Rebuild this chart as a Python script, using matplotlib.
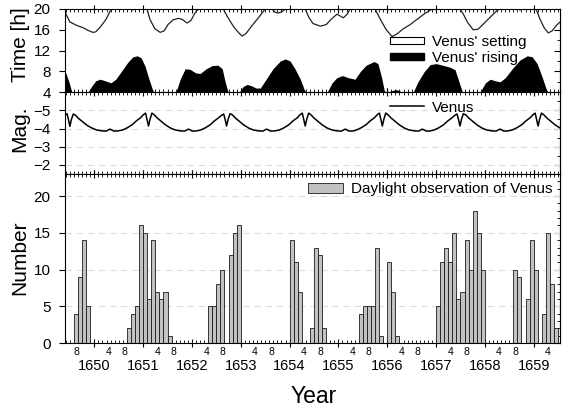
import matplotlib
matplotlib.use("Agg")
import matplotlib.pyplot as plt
from matplotlib.patches import Patch
from matplotlib.lines import Line2D
from matplotlib.ticker import MultipleLocator, FixedLocator

plt.rcParams['font.family'] = ['Liberation Sans', 'DejaVu Sans']

# ---------------- data (decimal years) ----------------
rise_t = [1649.39, 1649.42, 1649.48, 1649.54, 1649.87, 1649.95, 1650.03, 1650.12, 1650.22, 1650.34,
          1650.44, 1650.57, 1650.69, 1650.79, 1650.88, 1650.96, 1651.04, 1651.12, 1651.20, 1651.24,
          1651.67, 1651.76, 1651.86, 1651.96, 1652.08, 1652.17, 1652.29, 1652.41, 1652.53, 1652.62,
          1652.68, 1652.74, 1652.97, 1653.05, 1653.13, 1653.23, 1653.31, 1653.40, 1653.52, 1653.66,
          1653.81, 1653.91, 1654.01, 1654.11, 1654.22, 1654.30, 1654.34, 1654.77, 1654.87, 1654.97,
          1655.08, 1655.20, 1655.34, 1655.45, 1655.57, 1655.73, 1655.81, 1655.88, 1655.94, 1655.98,
          1656.10, 1656.18, 1656.24, 1656.31, 1656.53, 1656.63, 1656.76, 1656.88, 1657.00, 1657.13,
          1657.29, 1657.39, 1657.47, 1657.54, 1657.90, 1658.01, 1658.11, 1658.21, 1658.31, 1658.42,
          1658.56, 1658.72, 1658.87, 1658.97, 1659.07, 1659.17, 1659.26, 1659.30, 1659.54]
rise_h = [8.0, 7.6, 6.0, 4.0, 4.0, 5.2, 6.2, 6.5, 6.2, 5.8,
          6.5, 8.2, 9.8, 10.8, 11.0, 10.6, 9.0, 6.5, 4.3, 4.0,
          4.0, 6.5, 8.5, 8.4, 7.7, 7.6, 8.5, 9.1, 9.2, 8.5,
          6.0, 4.0, 4.0, 5.1, 5.5, 5.2, 4.8, 4.8, 6.5, 8.5,
          10.0, 10.4, 10.0, 8.5, 6.5, 4.5, 4.0, 4.0, 5.8, 6.8,
          7.2, 6.8, 6.5, 8.0, 9.2, 9.9, 9.5, 7.0, 4.3, 4.0,
          4.3, 4.5, 4.3, 4.0, 4.0, 6.0, 8.0, 9.3, 9.5, 9.2,
          8.8, 8.3, 6.0, 4.0, 4.0, 5.8, 6.5, 6.2, 6.0, 6.8,
          8.5, 10.2, 11.0, 10.8, 9.5, 7.0, 4.5, 4.0, 4.0]

set_t = [1649.39, 1649.42, 1649.50, 1649.65, 1649.77, 1649.87, 1649.97, 1650.03, 1650.12, 1650.24,
         1650.32, 1650.36, 1650.75, 1650.79, 1650.83, 1651.08, 1651.14, 1651.24, 1651.35, 1651.43,
         1651.51, 1651.61, 1651.72, 1651.80, 1651.90, 1651.98, 1652.06, 1652.13, 1652.64, 1652.74,
         1652.86, 1652.97, 1653.03, 1653.11, 1653.23, 1653.36, 1653.46, 1653.50, 1653.64, 1653.70,
         1653.76, 1653.85, 1653.91, 1654.32, 1654.40, 1654.48, 1654.63, 1654.75, 1654.85, 1654.97,
         1655.10, 1655.18, 1655.24, 1655.75, 1655.86, 1655.98, 1656.10, 1656.20, 1656.33, 1656.47,
         1656.61, 1656.78, 1656.92, 1657.49, 1657.56, 1657.64, 1657.76, 1657.86, 1658.01, 1658.15,
         1658.25, 1658.31, 1658.68, 1658.72, 1658.76, 1659.05, 1659.13, 1659.22, 1659.30, 1659.38,
         1659.46, 1659.54]
set_h = [20, 19.0, 17.5, 16.8, 16.4, 15.9, 15.5, 15.6, 16.5, 18.0,
         19.5, 20, 20, 19.8, 20, 20, 18.0, 16.2, 15.5, 15.8,
         17.0, 17.9, 18.2, 18.0, 17.3, 17.8, 19.2, 20, 20, 18.3,
         16.5, 15.3, 14.8, 15.3, 16.8, 18.3, 19.5, 20, 20, 19.4,
         19.2, 19.5, 20, 20, 18.3, 17.2, 16.7, 17.0, 18.0, 19.0,
         18.3, 19.0, 20, 20, 18.0, 16.0, 14.7, 15.2, 16.2, 17.0,
         18.0, 19.2, 20, 20, 19.0, 17.5, 16.0, 16.1, 17.5, 18.8,
         19.7, 20, 20, 19.8, 20, 20, 18.0, 16.3, 15.4, 15.8,
         16.8, 17.5]

mag_t = [1649.39, 1649.44, 1649.47, 1649.50, 1649.53, 1649.57, 1649.62, 1649.68, 1649.77, 1649.85,
         1649.95, 1650.05, 1650.16, 1650.24, 1650.32, 1650.40, 1650.48,
         1650.58, 1650.68, 1650.78, 1650.86, 1650.95, 1651.00, 1651.05, 1651.08, 1651.11, 1651.14,
         1651.18, 1651.23, 1651.29, 1651.38, 1651.46, 1651.56, 1651.66, 1651.77, 1651.85, 1651.93,
         1652.01, 1652.09,
         1652.18, 1652.28, 1652.38, 1652.46, 1652.55, 1652.60, 1652.65, 1652.68, 1652.71, 1652.74,
         1652.78, 1652.83, 1652.89, 1652.98, 1653.06, 1653.16, 1653.26, 1653.37, 1653.45, 1653.53,
         1653.61, 1653.69,
         1653.79, 1653.89, 1653.99, 1654.07, 1654.16, 1654.21, 1654.26, 1654.29, 1654.32, 1654.35,
         1654.39, 1654.44, 1654.50, 1654.59, 1654.67, 1654.77, 1654.87, 1654.98, 1655.06, 1655.14,
         1655.22, 1655.30,
         1655.37, 1655.47, 1655.57, 1655.65, 1655.74, 1655.79, 1655.84, 1655.87, 1655.90, 1655.93,
         1655.97, 1656.02, 1656.08, 1656.17, 1656.25, 1656.35, 1656.45, 1656.56, 1656.64, 1656.72,
         1656.80, 1656.88,
         1656.96, 1657.06, 1657.16, 1657.24, 1657.33, 1657.38, 1657.43, 1657.46, 1657.49, 1657.52,
         1657.56, 1657.61, 1657.67, 1657.76, 1657.84, 1657.94, 1658.04, 1658.15, 1658.23, 1658.31,
         1658.39, 1658.47,
         1658.56, 1658.66, 1658.76, 1658.84, 1658.93, 1658.98, 1659.03, 1659.06, 1659.09, 1659.12,
         1659.16, 1659.21, 1659.27, 1659.36, 1659.44, 1659.54]
mag_v = [-4.72, -4.82, -4.5, -4.12, -4.5, -4.8, -4.72, -4.55, -4.35, -4.18,
         -4.03, -3.92, -3.87, -3.86, -3.97, -3.86, -3.87,
         -3.92, -4.05, -4.22, -4.42, -4.6, -4.75, -4.85, -4.5, -4.14, -4.5,
         -4.85, -4.75, -4.58, -4.38, -4.2, -4.03, -3.92, -3.87, -3.86, -3.97,
         -3.86, -3.87,
         -3.92, -4.05, -4.22, -4.42, -4.6, -4.72, -4.8, -4.5, -4.14, -4.5,
         -4.82, -4.75, -4.58, -4.38, -4.2, -4.03, -3.92, -3.87, -3.86, -3.97,
         -3.86, -3.87,
         -3.92, -4.05, -4.22, -4.42, -4.6, -4.75, -4.85, -4.5, -4.14, -4.5,
         -4.85, -4.75, -4.58, -4.38, -4.2, -4.03, -3.92, -3.87, -3.86, -3.97,
         -3.86, -3.87,
         -3.92, -4.05, -4.22, -4.42, -4.6, -4.75, -4.85, -4.5, -4.14, -4.5,
         -4.85, -4.75, -4.58, -4.38, -4.2, -4.03, -3.92, -3.87, -3.86, -3.97,
         -3.86, -3.87,
         -3.92, -4.05, -4.22, -4.42, -4.6, -4.72, -4.8, -4.5, -4.14, -4.5,
         -4.82, -4.75, -4.58, -4.38, -4.2, -4.03, -3.92, -3.87, -3.86, -3.97,
         -3.86, -3.87,
         -3.92, -4.05, -4.22, -4.42, -4.6, -4.75, -4.85, -4.5, -4.14, -4.5,
         -4.85, -4.75, -4.58, -4.38, -4.2, -4.03]

bar_year = [1649, 1649, 1649, 1649,
            1650, 1650, 1650, 1650, 1651, 1651, 1651, 1651, 1651, 1651, 1651,
            1652, 1652, 1652, 1652, 1652, 1652, 1652,
            1654, 1654, 1654, 1654, 1654, 1654, 1654,
            1655, 1655, 1655, 1655, 1655, 1655, 1656, 1656, 1656,
            1657, 1657, 1657, 1657, 1657, 1657, 1657, 1657, 1657, 1657, 1657, 1657,
            1658, 1658, 1658, 1658, 1659, 1659, 1659, 1659, 1659]
bar_month = [8, 9, 10, 11,
             9, 10, 11, 12, 1, 2, 3, 4, 5, 6, 7,
             5, 6, 7, 8, 10, 11, 12,
             1, 2, 3, 6, 7, 8, 9,
             6, 7, 8, 9, 10, 11, 1, 2, 3,
             1, 2, 3, 4, 5, 6, 7, 8, 9, 10, 11, 12,
             8, 9, 11, 12, 1, 3, 4, 5, 6]
bar_count = [4, 9, 14, 5,
             2, 4, 5, 16, 15, 6, 14, 7, 6, 7, 1,
             5, 5, 8, 10, 12, 15, 16,
             14, 11, 7, 2, 13, 12, 2,
             4, 5, 5, 5, 13, 1, 11, 7, 1,
             5, 11, 13, 11, 15, 6, 7, 14, 10, 18, 15, 10,
             10, 9, 6, 14, 10, 4, 15, 8, 2]

years = [1650, 1651, 1652, 1653, 1654, 1655, 1656, 1657, 1658, 1659]
month_label_years = [1649, 1650, 1651, 1652, 1653, 1654, 1655, 1656, 1657, 1658, 1659]
month_labels = [4, 8]
x_range = (1649.39, 1659.54)

# ---------------- figure ----------------
fig = plt.figure(figsize=(5.64, 4.08), dpi=100)
L, R = 0.1144, 0.993
ax1 = fig.add_axes([L, 0.774, R - L, 0.978 - 0.774])
ax2 = fig.add_axes([L, 0.5735, R - L, 0.774 - 0.5735])
ax3 = fig.add_axes([L, 0.159, R - L, 0.5735 - 0.159])

# top panel
ax1.fill_between(rise_t, 4, rise_h, color='black', lw=0)
ax1.fill_between(set_t, set_h, 20, facecolor='white', lw=0)
ax1.plot(set_t, set_h, color='#222222', lw=0.9)
ax1.set_ylim(4, 20)
ax1.set_yticks([4, 8, 12, 16, 20])
ax1.yaxis.set_minor_locator(MultipleLocator(2))

# middle panel
ax2.plot(mag_t, mag_v, color='black', lw=1.1)
ax2.set_ylim(-1.5, -6)
ax2.set_yticks([-5, -4, -3, -2])
ax2.yaxis.set_minor_locator(MultipleLocator(0.5))

# bottom panel
bar_x = [y + (m - 0.5) / 12 for y, m in zip(bar_year, bar_month)]
ax3.bar(bar_x, bar_count, width=1 / 12, color='#c2c2c2', edgecolor='#1a1a1a', linewidth=0.6)
ax3.set_ylim(0, 23)
ax3.set_yticks([0, 5, 10, 15, 20])
ax3.yaxis.set_minor_locator(MultipleLocator(1))

for ax in (ax1, ax2, ax3):
    ax.set_xlim(*x_range)
    ax.xaxis.set_major_locator(FixedLocator(years))
    ax.xaxis.set_minor_locator(MultipleLocator(1 / 12))
    ax.tick_params(axis='x', which='major', direction='inout', length=6, width=0.8,
                   top=True, bottom=True)
    ax.tick_params(axis='x', which='minor', direction='in', length=2.5, width=0.6,
                   top=True, bottom=True)
    ax.tick_params(axis='y', which='major', direction='out', length=4, width=0.8,
                   labelsize=11, pad=6, left=True, right=False)
    ax.tick_params(axis='y', which='minor', left=False, right=False)
    for s in ax.spines.values():
        s.set_linewidth(0.8)
    sec = ax.secondary_yaxis('right')
    sec.yaxis.set_major_locator(FixedLocator(ax.get_yticks()))
    sec.yaxis.set_minor_locator(ax.yaxis.get_minor_locator())
    sec.tick_params(axis='y', which='major', direction='in', length=4, width=0.8, labelright=False)
    sec.tick_params(axis='y', which='minor', direction='in', length=2, width=0.6, labelright=False)
    sec.spines['right'].set_linewidth(0.8)

ax1.tick_params(axis='x', labelbottom=False)
ax2.tick_params(axis='x', labelbottom=False)
for ax in (ax2, ax3):
    ax.grid(axis='y', which='major', linestyle=(0, (6, 4)), color='#dcdcdc', linewidth=0.8)
    ax.set_axisbelow(True)

ax3.set_xticklabels([str(y) for y in years])
ax3.tick_params(axis='x', which='major', labelsize=10.5, pad=8.5)

for y in month_label_years:
    for m in month_labels:
        xm = y + (m - 0.5) / 12
        if x_range[0] < xm < x_range[1]:
            ax3.annotate(str(m), xy=(xm, 0), xycoords=('data', 'axes fraction'),
                         xytext=(0, -2.5), textcoords='offset points',
                         ha='center', va='top', fontsize=7.5)

# legends
ax1.legend(handles=[Patch(facecolor='white', edgecolor='black', linewidth=0.8, label="Venus' setting"),
                    Patch(facecolor='black', edgecolor='black', label="Venus' rising")],
           loc='upper left', bbox_to_anchor=(0.657, 0.69), frameon=False, fontsize=11,
           handlelength=2.2, handleheight=0.35, handletextpad=0.55, labelspacing=0.12,
           borderpad=0, borderaxespad=0)
ax2.legend(handles=[Line2D([], [], color='black', lw=1.1, label='Venus')],
           loc='upper left', bbox_to_anchor=(0.657, 0.895), frameon=False, fontsize=11,
           handlelength=2.2, handletextpad=0.55, borderpad=0, borderaxespad=0)
ax3.legend(handles=[Patch(facecolor='#c2c2c2', edgecolor='#1a1a1a', linewidth=0.6,
                          label='Daylight observation of Venus')],
           loc='upper left', bbox_to_anchor=(0.491, 0.95), frameon=False, fontsize=11,
           handlelength=2.3, handleheight=0.6, handletextpad=0.5, borderpad=0, borderaxespad=0)

# axis titles
fig.text(0.0355, 1 - 45 / 408, 'Time [h]', rotation=90, ha='center', va='center', fontsize=15)
fig.text(0.0355, 1 - 129 / 408, 'Mag.', rotation=90, ha='center', va='center', fontsize=15)
fig.text(0.0355, 1 - 258 / 408, 'Number', rotation=90, ha='center', va='center', fontsize=15)
fig.text(0.557, 0.012, 'Year', ha='center', va='baseline', fontsize=16.5)

fig.savefig('out.png', dpi=100)
